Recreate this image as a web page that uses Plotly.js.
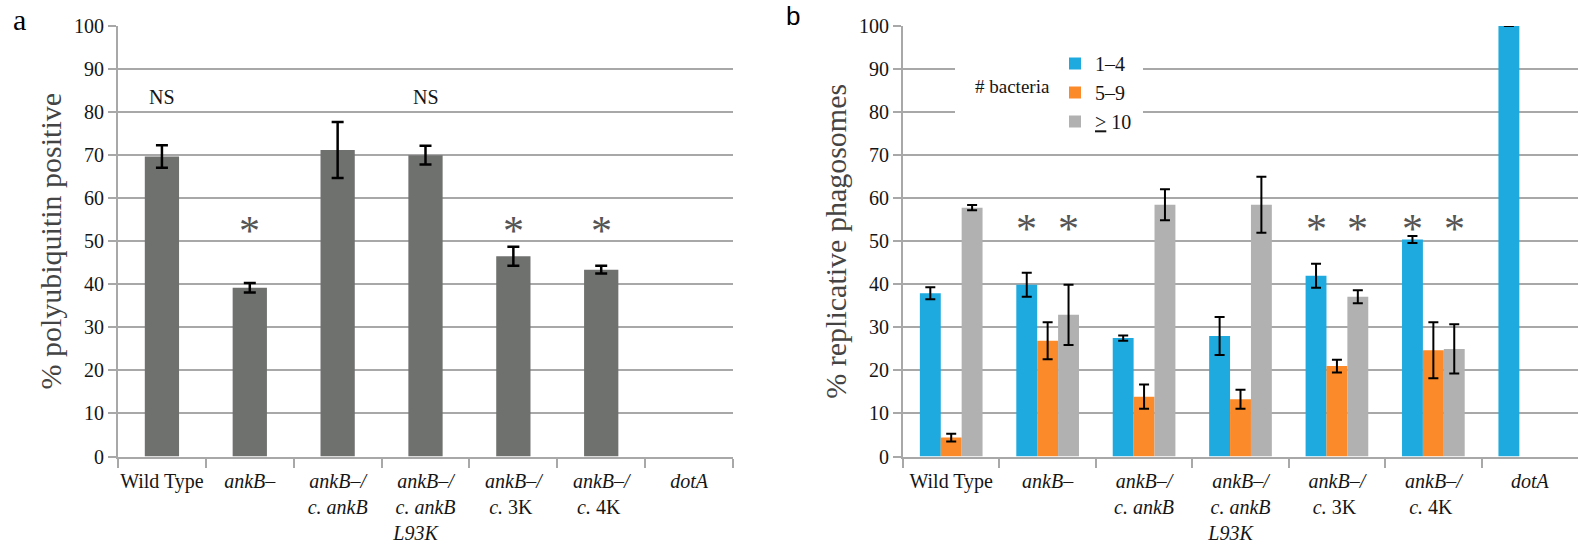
<!DOCTYPE html>
<html>
<head>
<meta charset="utf-8">
<script src="https://cdn.plot.ly/plotly-3.0.1.min.js"></script>
<style>html,body{margin:0;padding:0;background:#fff;}#chart{width:1580px;height:553px;}</style>
</head>
<body>
<div id="chart"></div>
<script>
// ---- data ----
const categories = ['Wild Type', 'ankB–', 'ankB–/c. ankB', 'ankB–/c. ankB L93K', 'ankB–/c. 3K', 'ankB–/c. 4K', 'dotA'];
const tickLabels = [
  'Wild Type',
  '<i>ankB–</i>',
  '<i>ankB–/</i><br><i>c. ankB</i>',
  '<i>ankB–/</i><br><i>c. ankB</i><br><i>L93K</i>\u00a0\u00a0\u00a0\u00a0',
  '<i>ankB–/</i><br><i>c.</i> 3K\u00a0',
  '<i>ankB–/</i><br><i>c.</i> 4K\u00a0',
  '<i>dotA</i>'
];
// panel a: % polyubiquitin positive
const polyub = [69.7, 39.2, 71.2, 70.0, 46.5, 43.4, null];
const polyubErr = [2.6, 1.1, 6.5, 2.2, 2.2, 0.9, null];
// panel b: % replicative phagosomes by # bacteria
const seriesNames = ['1–4', '5–9', '<u>&gt;</u> 10'];
const bact1to4 = [37.9, 39.9, 27.5, 28.0, 42.0, 50.4, 100];
const bact1to4Err = [1.4, 2.8, 0.6, 4.4, 2.8, 0.8, 0];
const bact5to9 = [4.4, 26.9, 13.9, 13.3, 21.0, 24.7, null];
const bact5to9Err = [0.9, 4.3, 2.8, 2.2, 1.5, 6.5, null];
const bact10plus = [57.8, 32.9, 58.5, 58.5, 37.1, 25.0, null];
const bact10plusErr = [0.6, 7.0, 3.6, 6.5, 1.5, 5.7, null];
// significance marks
const nsIdxA = [0, 3];           const nsLevelA = 83.5;
const starIdxA = [1, 4, 5];      const starLevelA = 55;
const starIdxB = [1, 4, 5];      const starLevelB = 55.3;  // over 1–4 and >=10 bars

const SERIF = "'Liberation Serif', 'Times New Roman', serif";
const txt = '#151515';
const gridc = '#a8a8a8';
const colors = ['#1eaadf', '#fa8a2a', '#b1b1b1'];
const bargap = 0.35;

const traces = [];
traces.push({
  type: 'bar', x: categories, y: polyub, xaxis: 'x', yaxis: 'y', width: 0.39,
  marker: {color: '#6f716f'}, showlegend: false, name: 'polyubiquitin',
  error_y: {type: 'data', array: polyubErr, visible: true, color: '#000', thickness: 2.5, width: 6}
});
const bSeries = [[bact1to4, bact1to4Err], [bact5to9, bact5to9Err], [bact10plus, bact10plusErr]];
bSeries.forEach((s, i) => {
  traces.push({
    type: 'bar', x: categories, y: s[0], xaxis: 'x2', yaxis: 'y2', name: seriesNames[i],
    marker: {color: colors[i]},
    error_y: {type: 'data', array: s[1], visible: true, color: '#000', thickness: 2, width: 5}
  });
});

const annotations = [];
nsIdxA.forEach(i => annotations.push({xref: 'x', yref: 'y', x: categories[i], y: nsLevelA, text: 'NS', showarrow: false, font: {family: SERIF, size: 20, color: txt}}));
starIdxA.forEach(i => annotations.push({xref: 'x', yref: 'y', x: categories[i], y: starLevelA, text: '*', showarrow: false, yshift: -11, font: {family: SERIF, size: 42, color: '#555'}}));
const off = (1 - bargap) / 3;
starIdxB.forEach(i => {
  [-off, off].forEach(d => annotations.push({xref: 'x2', yref: 'y2', x: i + d, y: starLevelB, text: '*', showarrow: false, yshift: -11, font: {family: SERIF, size: 42, color: '#555'}}));
});
annotations.push({xref: 'paper', yref: 'paper', x: 1012 / 1580, y: 1 - 86 / 553, xanchor: 'center', yanchor: 'middle', text: '# bacteria', showarrow: false, font: {family: SERIF, size: 19, color: txt}});
annotations.push({xref: 'paper', yref: 'paper', x: 19 / 1580, y: 1 - 19 / 553, xanchor: 'center', yanchor: 'middle', text: 'a', showarrow: false, font: {family: SERIF, size: 30, color: '#000'}});
annotations.push({xref: 'paper', yref: 'paper', x: 793 / 1580, y: 1 - 16 / 553, xanchor: 'center', yanchor: 'middle', text: 'b', showarrow: false, font: {family: "'Liberation Sans', Arial, sans-serif", size: 26, color: '#000'}});

function xax(domain) {
  return {
    domain: domain, type: 'category', tickvals: categories, ticktext: tickLabels, tickangle: 0,
    showline: true, linecolor: gridc, linewidth: 2, ticks: 'outside', tickson: 'boundaries',
    ticklen: 9, tickwidth: 2, tickcolor: gridc, showgrid: false, zeroline: false,
    ticklabelstandoff: 5,
    tickfont: {family: SERIF, size: 20, color: txt}, fixedrange: true
  };
}
function yax(anchor, title) {
  return {
    domain: [1 - 456.5 / 553, 1 - 26 / 553], anchor: anchor, range: [0, 100], dtick: 10,
    showline: true, linecolor: gridc, linewidth: 2, showgrid: true, gridcolor: gridc, gridwidth: 2,
    ticks: 'outside', ticklen: 8, tickwidth: 2, tickcolor: gridc, zeroline: false,
    tickfont: {family: SERIF, size: 20, color: txt},
    title: {text: title, font: {family: SERIF, size: 30, color: '#444'}, standoff: 4},
    fixedrange: true
  };
}

const layout = {
  width: 1580, height: 553,
  margin: {l: 0, r: 0, t: 0, b: 0},
  paper_bgcolor: '#fff', plot_bgcolor: 'rgba(0,0,0,0)',
  barmode: 'group', bargap: bargap, bargroupgap: 0,
  xaxis: xax([118 / 1580, 733 / 1580]),
  xaxis2: Object.assign(xax([903 / 1580, 1578 / 1580]), {anchor: 'y2'}),
  yaxis: yax('x', '% polyubiquitin positive'),
  yaxis2: yax('x2', '% replicative phagosomes'),
  showlegend: true,
  legend: {
    x: 1055 / 1580, y: 1 - 44 / 553, xanchor: 'left', yanchor: 'top',
    bgcolor: 'rgba(0,0,0,0)', borderwidth: 0,
    font: {family: SERIF, size: 20, color: txt}, traceorder: 'normal'
  },
  shapes: [{type: 'rect', xref: 'paper', yref: 'paper', layer: 'above',
    x0: 955 / 1580, x1: 1143 / 1580, y0: 1 - 135 / 553, y1: 1 - 45 / 553,
    fillcolor: '#fff', line: {width: 0}}],
  annotations: annotations
};

Plotly.newPlot('chart', traces, layout, {displayModeBar: false, staticPlot: true});
</script>
</body>
</html>
